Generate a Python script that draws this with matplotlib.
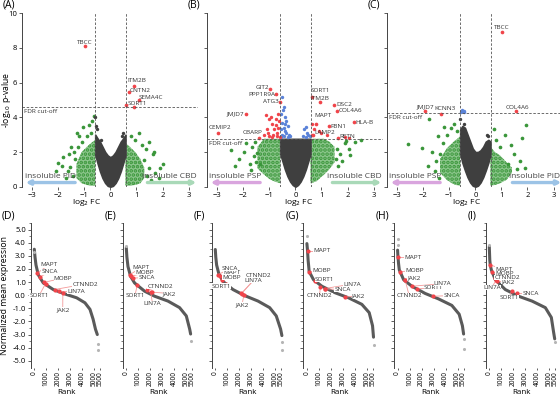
import matplotlib.pyplot as plt

plt.rcParams['font.family'] = ['Open Sans', 'DejaVu Sans']
plt.rcParams['hatch.linewidth'] = 1.8

### Colours
GRAY = '#3f3f3f'
GREEN = '#3a963a'
GREEN_BASE = '#8cc68c'
RED = '#f0444a'
BLUE = '#5a82d8'
LINE_RED = '#f49a9a'
PID_BLUE = '#9cc3e6'
CBD_GREEN = '#a9d9b8'
PSP_PURPLE = '#d9a5de'

### Volcano plots (A-C)
v_x = [-0.58, -0.5, -0.4, -0.3, -0.2, -0.1, 0, 0.1, 0.2, 0.3, 0.4, 0.5, 0.58]

a_gray_low = [1.85, 1.4, 0.9, 0.5, 0.22, 0.05, 0, 0.05, 0.22, 0.5, 0.9, 1.4, 1.85]
a_gray_up = [3.0, 2.8, 2.6, 2.3, 2.0, 1.8, 1.7, 1.8, 2.0, 2.3, 2.6, 2.8, 3.0]
b_gray_low = [1.9, 1.5, 1.0, 0.6, 0.3, 0.1, 0, 0.1, 0.3, 0.6, 1.0, 1.5, 1.9]
b_gray_up = [2.76] * 13
c_gray_low = [1.9, 1.4, 0.95, 0.55, 0.25, 0.06, 0, 0.06, 0.25, 0.55, 0.95, 1.4, 1.9]
c_gray_up = [3.3, 3.5, 3.4, 3.0, 2.6, 2.2, 2.0, 2.0, 2.1, 2.3, 2.6, 2.7, 2.6]

a_gray_x = [-0.6, -0.55, -0.5, 0.5, 0.45, -0.35]
a_gray_y = [4.0, 3.5, 3.3, 3.1, 2.95, 2.7]
c_gray_x = [-0.6, -0.44, 0.5, 0.45]
c_gray_y = [3.93, 3.64, 2.9, 3.0]

# dense green bands next to the fold-change cut-offs
a_gl_x = [-1.3, -1.1, -0.9, -0.75, -0.58]
a_gl_low = [0.5, 0.2, 0.1, 0.05, 0.05]
a_gl_up = [1.3, 2.0, 2.3, 2.5, 2.7]
a_gr_x = [0.58, 0.75, 0.95, 1.15, 1.3]
a_gr_low = [0.05, 0.05, 0.1, 0.2, 0.5]
a_gr_up = [2.5, 2.3, 2.0, 1.6, 1.1]

b_gl_x = [-1.45, -1.2, -1.0, -0.8, -0.58]
b_gl_low = [1.05, 0.7, 0.45, 0.3, 0.2]
b_gl_up = [2.3, 2.76, 2.76, 2.76, 2.76]
b_gr_x = [0.58, 0.8, 1.1, 1.3, 1.5]
b_gr_low = [0.2, 0.3, 0.7, 1.0, 1.4]
b_gr_up = [2.76, 2.76, 2.76, 2.6, 2.3]

c_gl_x = [-1.35, -1.1, -0.9, -0.75, -0.58]
c_gl_low = [0.8, 0.4, 0.2, 0.1, 0.05]
c_gl_up = [1.6, 2.2, 2.5, 2.7, 2.9]
c_gr_x = [0.58, 0.75, 0.95, 1.2, 1.4]
c_gr_low = [0.05, 0.1, 0.2, 0.4, 0.8]
c_gr_up = [2.3, 2.0, 1.8, 1.4, 1.1]

# scattered green points
a_green_x = [-1.28, -1.22, -1.05, -0.83, -0.64, -0.7, -1.51, -1.8, -1.99, -1.54, -1.35,
             -1.4, -1.62, -1.45, -1.7, -2.1, -1.25, -1.1, -0.9, -0.75, -1.6, -1.85,
             1.47, 1.09, 1.28, 1.5, 1.7, 1.62, 1.35, 1.2, 0.95, 0.8, 1.4, 1.55, 1.85,
             1.92, 2.0, 1.67]
a_green_y = [3.07, 2.95, 3.45, 3.54, 4.1, 3.8, 2.3, 1.72, 1.34, 1.15, 1.6,
             2.0, 0.9, 0.6, 0.5, 0.9, 2.3, 2.6, 2.9, 3.1, 1.9, 1.2,
             2.59, 3.07, 1.53, 1.1, 0.8, 1.9, 2.2, 2.4, 2.7, 2.9, 0.6, 0.4, 0.5,
             1.05, 1.3, 2.0]
b_green_x = [-2.17, -1.97, -1.65, -1.46, -2.3, -1.75, -1.6, -1.55, -1.9, -2.45, -1.7,
             -1.52, -1.35,
             1.9, 2.05, 2.3, 1.7, 1.8, 1.6, 2.1, 1.55, 2.5, 1.65, 1.95]
b_green_y = [1.57, 2.01, 2.3, 1.92, 1.2, 1.3, 1.75, 2.55, 2.5, 2.1, 0.95,
             1.45, 1.3,
             2.5, 2.2, 2.6, 1.9, 1.5, 2.2, 1.8, 1.6, 2.7, 1.2, 2.65]
c_green_x = [-2.6, -2.06, -1.78, -1.2, -1.45, -1.65, -1.5, -1.35, -1.25, -1.1, -0.95,
             -0.8, -0.7, -1.8, -1.55, -1.4,
             1.93, 1.78, 1.14, 1.35, 1.5, 1.7, 1.25, 0.95, 0.8, 1.9, 1.6, 0.7]
c_green_y = [2.49, 2.26, 3.93, 3.45, 2.9, 2.0, 1.5, 1.9, 2.5, 3.0, 3.4,
             3.6, 3.2, 1.2, 0.9, 0.5,
             3.54, 2.83, 2.97, 2.4, 1.9, 1.5, 1.3, 2.3, 2.7, 1.1, 1.0, 3.3]

# unlabelled significant points
b_red_x = [-0.75, -0.9, -0.65, -1.1, -0.7, -0.85, -1.0, -0.6, -1.2, -0.8, -0.95,
           -0.62, -1.05, -0.72, -0.9, -0.76, -0.65, -1.14, -1.0,
           0.62, 0.7, 0.9, 1.0, 0.65, 1.2, 1.9, 2.05]
b_red_y = [3.9, 3.6, 3.4, 3.3, 3.1, 3.0, 2.9, 2.85, 3.0, 3.3, 4.0,
           3.8, 3.1, 2.95, 2.85, 3.55, 4.2, 4.12, 3.93,
           3.0, 3.3, 3.2, 3.1, 3.6, 3.0, 2.85, 2.8]
b_blue_x = [-0.5, -0.45, -0.55, -0.4, -0.35, -0.5, -0.3, -0.45, -0.55, -0.4, -0.35,
            -0.25, -0.5, -0.45, -0.3, -0.55, -0.2, -0.38, -0.48,
            0.35, 0.4, 0.45, 0.5, 0.3, 0.42, 0.55]
b_blue_y = [5.2, 4.6, 4.2, 4.0, 3.8, 3.7, 3.5, 3.4, 3.3, 3.2, 3.1,
            3.0, 3.0, 2.9, 2.85, 2.85, 2.9, 3.6, 4.4,
            3.3, 3.45, 3.1, 3.0, 2.9, 2.85, 2.9]
c_blue_x = [-0.5, -0.45, -0.42, -0.55]
c_blue_y = [4.4, 4.3, 4.35, 4.28]

# labelled genes: point and label centre
a_genes = ['TBCC', 'ITM2B', 'CNTN2', 'SEMA4C', 'SORT1', '']
a_gene_x = [-0.96, 0.9, 0.7, 1.09, 0.9, 0.6]
a_gene_y = [8.1, 5.8, 5.46, 4.98, 4.6, 4.73]
a_lab_x = [-0.99, 1.03, 1.15, 1.56, 1.04, 0]
a_lab_y = [8.33, 6.13, 5.52, 5.13, 4.79, 0]

b_genes = ['GIT2', 'PPP1R9A', 'ATG3', 'JMJD7', 'CEMIP2', 'CBARP', 'SORT1', 'ITM2B',
           'DSC2', 'COL4A6', 'MAPT', 'HLA-B', 'FBN1', 'LAMP2', 'RETN']
b_gene_x = [-0.97, -0.75, -0.58, -1.9, -2.98, -1.39, 0.63, 0.93,
            1.47, 1.61, 0.8, 2.25, 1.29, 0.67, 1.64]
b_gene_y = [5.65, 5.33, 4.88, 4.2, 3.1, 2.83, 5.17, 4.9,
            4.73, 4.37, 3.6, 3.72, 3.49, 2.97, 2.78]
b_lab_x = [-1.28, -1.3, -0.94, -2.3, -2.88, -1.65, 0.97, 0.93,
           1.87, 2.1, 1.06, 2.65, 1.66, 1.12, 2.0]
b_lab_y = [5.71, 5.33, 4.92, 4.21, 3.39, 3.1, 5.52, 5.08,
           4.75, 4.37, 4.08, 3.72, 3.49, 3.12, 2.91]

c_genes = ['TBCC', 'JMJD7', 'KCNN3', 'COL4A6']
c_gene_x = [1.02, -1.94, -1.31, 1.55]
c_gene_y = [8.95, 4.35, 4.21, 4.35]
c_lab_x = [1.02, -1.94, -1.15, 1.61]
c_lab_y = [9.16, 4.6, 4.5, 4.56]

fdr_cutoffs = [4.62, 2.76, 4.25]
fc_cutoff = 0.585

### Rank plots (D-I)
rank_genes = ['MAPT', 'SNCA', 'MOBP', 'SORT1', 'CTNND2', 'LIN7A', 'JAK2']

d_rank = [0, 60, 140, 330, 750, 1580, 2690, 3530, 4220, 4640, 4900, 5100, 5250]
d_val = [3.5, 2.9, 2.3, 1.55, 0.93, 0.43, 0.05, -0.2, -0.58, -1.08, -1.83, -2.6, -3.0]
d_out_rank = [5300, 5300, 0]
d_out_val = [-3.7, -4.15, 3.3]
d_gene_rank = [250, 470, 830, 940, 1690, 2050, 2380]
d_gene_val = [1.68, 1.38, 0.98, 0.88, 0.43, 0.3, 0.18]
d_lab_rank = [1200, 1250, 2400, 400, 4250, 3480, 2370]
d_lab_val = [2.3, 1.78, 1.3, -0.03, 0.85, 0.3, -1.08]

e_rank = [0, 50, 140, 360, 690, 1530, 2360, 3470, 4440, 5000, 5280, 5360]
e_val = [3.6, 2.9, 2.18, 1.43, 0.93, 0.3, -0.08, -0.45, -0.95, -1.58, -2.58, -2.96]
e_out_rank = [5360, 0]
e_out_val = [-3.46, 3.75]
e_gene_rank = [280, 560, 420, 920, 1750, 2030, 2140]
e_gene_val = [1.55, 1.3, 1.43, 0.8, 0.38, 0.25, 0.23]
e_lab_rank = [1220, 1670, 1530, 720, 2820, 2180, 3600]
e_lab_val = [2.1, 1.35, 1.73, -0.03, 0.68, -0.63, 0.13]

f_rank = [0, 40, 110, 280, 640, 1470, 2440, 3560, 4530, 5080, 5440, 5550]
f_val = [3.48, 2.9, 2.3, 1.68, 1.05, 0.43, -0.03, -0.45, -0.95, -1.58, -2.58, -3.08]
f_out_rank = [5550, 5550]
f_out_val = [-3.58, -4.2]
f_gene_rank = [360, 220, 550, 910, 2160, 2200, 2380]
f_gene_val = [1.43, 1.55, 1.13, 0.88, 0.13, 0.12, 0.05]
f_lab_rank = [1390, 1190, 1390, 500, 3560, 3140, 2240]
f_lab_val = [1.73, 2.03, 1.38, 0.68, 1.48, 1.1, -0.7]

g_rank = [0, 50, 100, 190, 550, 1250, 2360, 3470, 4580, 5190, 5470, 5550]
g_val = [3.93, 3.43, 2.68, 1.8, 1.18, 0.68, 0.18, -0.2, -0.7, -1.33, -2.33, -3.2]
g_out_rank = [0, 5550]
g_out_val = [4.48, -3.83]
g_gene_rank = [60, 1530, 190, 640, 1110, 1470, 3190]
g_gene_val = [3.38, 0.48, 1.8, 1.05, 0.6, 0.5, -0.13]
g_lab_rank = [1250, 2970, 1250, 1470, 1060, 3750, 4300]
g_lab_val = [3.38, 0.43, 1.88, 1.23, -0.03, 0.85, -0.08]

h_rank = [0, 30, 80, 140, 500, 1190, 2300, 3400, 4520, 5130, 5400, 5500]
h_val = [3.43, 2.93, 2.4, 1.93, 1.18, 0.68, 0.13, -0.28, -0.78, -1.45, -2.33, -2.96]
h_out_rank = [0, 0, 5500, 5500]
h_out_val = [4.3, 3.8, -3.33, -4.08]
h_gene_rank = [30, 2990, 220, 1610, 640, 1190, 580]
h_gene_val = [2.88, -0.08, 1.8, 0.48, 1.12, 0.68, 1.18]
h_lab_rank = [1300, 4490, 1390, 3020, 960, 3750, 1390]
h_lab_val = [2.88, -0.03, 1.85, 0.55, -0.03, 0.88, 1.3]

i_rank = [0, 40, 80, 170, 500, 1330, 2440, 3560, 4670, 5170, 5360, 5450]
i_val = [3.68, 2.68, 2.3, 1.93, 1.18, 0.43, -0.08, -0.45, -0.95, -1.7, -2.83, -3.33]
i_out_rank = [5450, 0]
i_out_val = [-3.58, 3.85]
i_gene_rank = [80, 2270, 220, 1860, 440, 560, 640]
i_gene_val = [2.3, 0.13, 1.73, 0.3, 1.3, 1.13, 1.05]
i_lab_rank = [1190, 3440, 1250, 1640, 1470, 220, 1560]
i_lab_val = [1.98, 0.13, 1.63, -0.2, 1.35, 0.6, 1.03]

rank_ticks = [0, 1000, 2000, 3000, 4000, 5000, 5500]
expr_ticks = [5.0, 4.0, 3.0, 2.0, 1.0, 0.0, -1.0, -2.0, -3.0, -4.0, -5.0]

W, H = 560, 397
fig = plt.figure(figsize=(W / 100, H / 100), dpi=100)


def px_axes(left, top, width, height):
    return fig.add_axes([left / W, 1 - (top + height) / H, width / W, height / H])


def style_axes(ax):
    for side in ('top', 'right', 'bottom'):
        ax.spines[side].set_visible(False)
    ax.spines['left'].set_color('#444444')
    ax.spines['left'].set_linewidth(0.7)
    ax.tick_params(length=2, width=0.6, color='#444444', labelsize=5.5, pad=1.5)


def volcano(ax, letter, gray_low, gray_up, gray_x, gray_y, gl, gr, green_x, green_y,
            red_x, red_y, blue_x, blue_y, genes, gene_x, gene_y, lab_x, lab_y, fdr,
            left_txt, left_col, right_txt, right_col, show_y, xlab_pos):
    style_axes(ax)
    ax.set_xlim(-3.4, 3.35)
    ax.set_ylim(0, 10)

    for xs, lo, up in (gl, gr):
        ax.fill_between(xs, lo, up, facecolor=GREEN_BASE, edgecolor=GREEN, hatch='....',
                        lw=0)
    ax.scatter(green_x, green_y, s=7, color=GREEN, lw=0)
    ax.fill_between(v_x, gray_low, gray_up, color=GRAY, lw=1.2)
    ax.scatter(gray_x, gray_y, s=6, color=GRAY, lw=0)
    ax.scatter(blue_x, blue_y, s=6, color=BLUE, lw=0)
    ax.scatter(red_x, red_y, s=6, color=RED, lw=0)
    ax.scatter(gene_x, gene_y, s=7, color=RED, lw=0)
    for g, x, y in zip(genes, lab_x, lab_y):
        if g:
            ax.text(x, y, g, fontsize=4.6, ha='center', va='center', color='#333333')

    ax.axvline(-fc_cutoff, color='#555555', ls='--', lw=0.6, dashes=(3, 2))
    ax.axvline(fc_cutoff, color='#555555', ls='--', lw=0.6, dashes=(3, 2))
    ax.axhline(fdr, color='#555555', ls='--', lw=0.6, dashes=(3, 2))
    ax.text(-3.3, fdr - 0.12, 'FDR cut-off', fontsize=4.6, ha='left', va='top',
            color='#333333')

    ax.annotate('', xy=(-3.25, 0.24), xytext=(-1.35, 0.24),
                arrowprops=dict(arrowstyle='-|>', color=left_col, lw=2.4,
                                mutation_scale=6, shrinkA=0, shrinkB=0))
    ax.annotate('', xy=(3.3, 0.24), xytext=(1.42, 0.24),
                arrowprops=dict(arrowstyle='-|>', color=right_col, lw=2.4,
                                mutation_scale=6, shrinkA=0, shrinkB=0))
    ax.text(-2.3, 0.57, left_txt, fontsize=6, ha='center', va='center', color='#444444')
    ax.text(2.27, 0.57, right_txt, fontsize=6, ha='center', va='center', color='#444444')

    ax.set_xticks([-3, -2, -1, 0, 1, 2, 3])
    ax.set_yticks([0, 2, 4, 6, 8, 10])
    if show_y:
        ax.set_ylabel('-log$_{10}$ p-value', fontsize=6.2)
        ax.yaxis.set_label_coords(-0.05, 0.5)
    else:
        ax.set_yticklabels([])
    ax.set_xlabel('log$_2$ FC', fontsize=6)
    ax.xaxis.set_label_coords(xlab_pos, -0.06)
    ax.text(-0.11, 1.045, letter, transform=ax.transAxes, fontsize=7.5, ha='left',
            va='center')


axA = px_axes(21.7, 13.3, 176, 173.4)
volcano(axA, '(A)', a_gray_low, a_gray_up, a_gray_x, a_gray_y,
        (a_gl_x, a_gl_low, a_gl_up), (a_gr_x, a_gr_low, a_gr_up), a_green_x, a_green_y,
        [], [], [], [], a_genes, a_gene_x, a_gene_y, a_lab_x, a_lab_y, fdr_cutoffs[0],
        'insoluble PiD', PID_BLUE, 'insoluble CBD', CBD_GREEN, True, 0.37)

axB = px_axes(206.7, 13.3, 176, 173.4)
volcano(axB, '(B)', b_gray_low, b_gray_up, [], [],
        (b_gl_x, b_gl_low, b_gl_up), (b_gr_x, b_gr_low, b_gr_up), b_green_x, b_green_y,
        b_red_x, b_red_y, b_blue_x, b_blue_y, b_genes, b_gene_x, b_gene_y, b_lab_x,
        b_lab_y, fdr_cutoffs[1], 'insoluble PSP', PSP_PURPLE, 'insoluble CBD', CBD_GREEN,
        False, 0.52)

axC = px_axes(386.7, 13.3, 176, 173.4)
volcano(axC, '(C)', c_gray_low, c_gray_up, c_gray_x, c_gray_y,
        (c_gl_x, c_gl_low, c_gl_up), (c_gr_x, c_gr_low, c_gr_up), c_green_x, c_green_y,
        [], [], c_blue_x, c_blue_y, c_genes, c_gene_x, c_gene_y, c_lab_x, c_lab_y,
        fdr_cutoffs[2], 'insoluble PSP', PSP_PURPLE, 'insoluble PiD', PID_BLUE, False,
        0.456)


def rank_panel(ax, letter, ranks, vals, out_r, out_v, g_r, g_v, l_r, l_v, show_y,
               letter_x):
    style_axes(ax)
    ax.set_xlim(-300, 5700)
    ax.set_ylim(-5.55, 5.35)
    ax.plot(ranks, vals, color='#5a5a5a', lw=2.2, solid_capstyle='round', zorder=2)
    ax.scatter(out_r, out_v, s=5, color='#b5b5b5', lw=0, zorder=2)
    for gr, gv, lr, lv in zip(g_r, g_v, l_r, l_v):
        ax.plot([gr, lr], [gv, lv], color=LINE_RED, lw=0.6, zorder=3)
    ax.scatter(g_r, g_v, s=9, color=RED, lw=0, zorder=4)
    for g, lr, lv in zip(rank_genes, l_r, l_v):
        ax.text(lr, lv, g, fontsize=4.6, ha='center', va='center', color='#333333',
                zorder=5, bbox=dict(facecolor='white', edgecolor='none', pad=0.2))
    ax.set_xticks(rank_ticks)
    ax.set_xticklabels([str(t) for t in rank_ticks], rotation=90, fontsize=4.7)
    ax.tick_params(axis='x', pad=0.5, length=1.5)
    ax.set_yticks(expr_ticks)
    ax.set_yticks([v + 0.5 for v in expr_ticks[:-1]], minor=True)
    ax.tick_params(which='minor', length=1.5, width=0.5, color='#444444')
    if show_y:
        ax.set_yticklabels([f'{t:.1f}' for t in expr_ticks])
        ax.set_ylabel('Normalized mean expression', fontsize=6.2)
        ax.yaxis.set_label_coords(-0.3, 0.5)
    else:
        ax.set_yticklabels([])
    ax.set_xlabel('Rank', fontsize=5.8)
    ax.xaxis.set_label_coords(0.5, -0.148)
    ax.text(letter_x, 1.05, letter, transform=ax.transAxes, fontsize=7.5, ha='left',
            va='center')


rank_sets = [
    ('(D)', d_rank, d_val, d_out_rank, d_out_val, d_gene_rank, d_gene_val, d_lab_rank, d_lab_val),
    ('(E)', e_rank, e_val, e_out_rank, e_out_val, e_gene_rank, e_gene_val, e_lab_rank, e_lab_val),
    ('(F)', f_rank, f_val, f_out_rank, f_out_val, f_gene_rank, f_gene_val, f_lab_rank, f_lab_val),
    ('(G)', g_rank, g_val, g_out_rank, g_out_val, g_gene_rank, g_gene_val, g_lab_rank, g_lab_val),
    ('(H)', h_rank, h_val, h_out_rank, h_out_val, h_gene_rank, h_gene_val, h_lab_rank, h_lab_val),
    ('(I)', i_rank, i_val, i_out_rank, i_out_val, i_gene_rank, i_gene_val, i_lab_rank, i_lab_val),
]
rank_lefts = [30.7, 122.7, 211.7, 303.3, 394, 485.7]

for k, (left, rs) in enumerate(zip(rank_lefts, rank_sets)):
    ax = px_axes(left, 223, 72, 145)
    rank_panel(ax, *rs, show_y=(k == 0), letter_x=(-0.4 if k == 0 else -0.25))

fig.savefig('out.png', dpi=100)
